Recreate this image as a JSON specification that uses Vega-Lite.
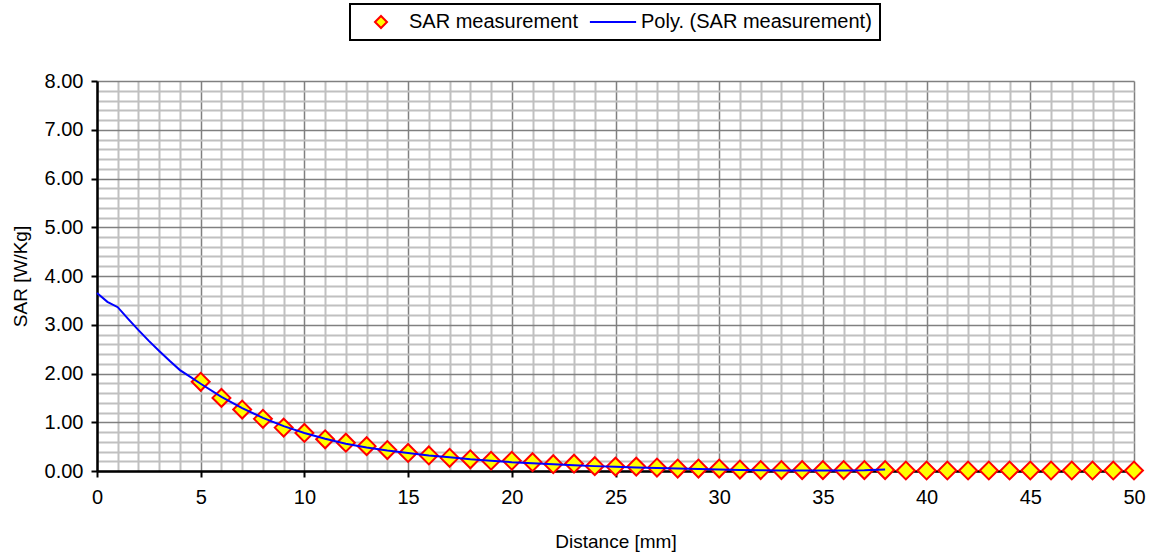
{
  "$schema": "https://vega.github.io/schema/vega-lite/v6.json",
  "width": 1037,
  "height": 390,
  "autosize": {"type": "none"},
  "padding": {"left": 97, "top": 81, "right": 15, "bottom": 86},
  "background": "white",
  "config": {
    "font": "Liberation Sans",
    "view": {"stroke": null},
    "axis": {"labelFont": "Liberation Sans", "titleFont": "Liberation Sans", "labelColor": "black", "titleColor": "black", "titleFontWeight": "normal"}
  },
  "datasets": {
    "meas": [
      {"d": 5, "sar": 1.83, "series": "SAR measurement"},
      {"d": 6, "sar": 1.50, "series": "SAR measurement"},
      {"d": 7, "sar": 1.26, "series": "SAR measurement"},
      {"d": 8, "sar": 1.07, "series": "SAR measurement"},
      {"d": 9, "sar": 0.89, "series": "SAR measurement"},
      {"d": 10, "sar": 0.78, "series": "SAR measurement"},
      {"d": 11, "sar": 0.65, "series": "SAR measurement"},
      {"d": 12, "sar": 0.58, "series": "SAR measurement"},
      {"d": 13, "sar": 0.51, "series": "SAR measurement"},
      {"d": 14, "sar": 0.43, "series": "SAR measurement"},
      {"d": 15, "sar": 0.37, "series": "SAR measurement"},
      {"d": 16, "sar": 0.32, "series": "SAR measurement"},
      {"d": 17, "sar": 0.27, "series": "SAR measurement"},
      {"d": 18, "sar": 0.24, "series": "SAR measurement"},
      {"d": 19, "sar": 0.21, "series": "SAR measurement"},
      {"d": 20, "sar": 0.21, "series": "SAR measurement"},
      {"d": 21, "sar": 0.18, "series": "SAR measurement"},
      {"d": 22, "sar": 0.14, "series": "SAR measurement"},
      {"d": 23, "sar": 0.15, "series": "SAR measurement"},
      {"d": 24, "sar": 0.10, "series": "SAR measurement"},
      {"d": 25, "sar": 0.09, "series": "SAR measurement"},
      {"d": 26, "sar": 0.09, "series": "SAR measurement"},
      {"d": 27, "sar": 0.07, "series": "SAR measurement"},
      {"d": 28, "sar": 0.05, "series": "SAR measurement"},
      {"d": 29, "sar": 0.05, "series": "SAR measurement"},
      {"d": 30, "sar": 0.05, "series": "SAR measurement"},
      {"d": 31, "sar": 0.03, "series": "SAR measurement"},
      {"d": 32, "sar": 0.02, "series": "SAR measurement"},
      {"d": 33, "sar": 0.02, "series": "SAR measurement"},
      {"d": 34, "sar": 0.02, "series": "SAR measurement"},
      {"d": 35, "sar": 0.02, "series": "SAR measurement"},
      {"d": 36, "sar": 0.02, "series": "SAR measurement"},
      {"d": 37, "sar": 0.02, "series": "SAR measurement"},
      {"d": 38, "sar": 0.02, "series": "SAR measurement"},
      {"d": 39, "sar": 0.01, "series": "SAR measurement"},
      {"d": 40, "sar": 0.01, "series": "SAR measurement"},
      {"d": 41, "sar": 0.01, "series": "SAR measurement"},
      {"d": 42, "sar": 0.01, "series": "SAR measurement"},
      {"d": 43, "sar": 0.01, "series": "SAR measurement"},
      {"d": 44, "sar": 0.01, "series": "SAR measurement"},
      {"d": 45, "sar": 0.01, "series": "SAR measurement"},
      {"d": 46, "sar": 0.01, "series": "SAR measurement"},
      {"d": 47, "sar": 0.01, "series": "SAR measurement"},
      {"d": 48, "sar": 0.01, "series": "SAR measurement"},
      {"d": 49, "sar": 0.01, "series": "SAR measurement"},
      {"d": 50, "sar": 0.01, "series": "SAR measurement"}
    ],
    "poly": [
      {"d": 0, "sar": 3.65, "series": "Poly. (SAR measurement)"},
      {"d": 0.5, "sar": 3.47, "series": "Poly. (SAR measurement)"},
      {"d": 1, "sar": 3.36, "series": "Poly. (SAR measurement)"},
      {"d": 1.5, "sar": 3.12, "series": "Poly. (SAR measurement)"},
      {"d": 2, "sar": 2.89, "series": "Poly. (SAR measurement)"},
      {"d": 2.5, "sar": 2.67, "series": "Poly. (SAR measurement)"},
      {"d": 3, "sar": 2.46, "series": "Poly. (SAR measurement)"},
      {"d": 3.5, "sar": 2.26, "series": "Poly. (SAR measurement)"},
      {"d": 4, "sar": 2.07, "series": "Poly. (SAR measurement)"},
      {"d": 4.5, "sar": 1.93, "series": "Poly. (SAR measurement)"},
      {"d": 5, "sar": 1.79, "series": "Poly. (SAR measurement)"},
      {"d": 6, "sar": 1.52, "series": "Poly. (SAR measurement)"},
      {"d": 7, "sar": 1.29, "series": "Poly. (SAR measurement)"},
      {"d": 8, "sar": 1.09, "series": "Poly. (SAR measurement)"},
      {"d": 9, "sar": 0.92, "series": "Poly. (SAR measurement)"},
      {"d": 10, "sar": 0.78, "series": "Poly. (SAR measurement)"},
      {"d": 11, "sar": 0.66, "series": "Poly. (SAR measurement)"},
      {"d": 12, "sar": 0.56, "series": "Poly. (SAR measurement)"},
      {"d": 13, "sar": 0.48, "series": "Poly. (SAR measurement)"},
      {"d": 14, "sar": 0.42, "series": "Poly. (SAR measurement)"},
      {"d": 15, "sar": 0.37, "series": "Poly. (SAR measurement)"},
      {"d": 16, "sar": 0.32, "series": "Poly. (SAR measurement)"},
      {"d": 17, "sar": 0.28, "series": "Poly. (SAR measurement)"},
      {"d": 18, "sar": 0.24, "series": "Poly. (SAR measurement)"},
      {"d": 19, "sar": 0.21, "series": "Poly. (SAR measurement)"},
      {"d": 20, "sar": 0.18, "series": "Poly. (SAR measurement)"},
      {"d": 21, "sar": 0.16, "series": "Poly. (SAR measurement)"},
      {"d": 22, "sar": 0.14, "series": "Poly. (SAR measurement)"},
      {"d": 23, "sar": 0.12, "series": "Poly. (SAR measurement)"},
      {"d": 24, "sar": 0.10, "series": "Poly. (SAR measurement)"},
      {"d": 25, "sar": 0.085, "series": "Poly. (SAR measurement)"},
      {"d": 26, "sar": 0.07, "series": "Poly. (SAR measurement)"},
      {"d": 27, "sar": 0.06, "series": "Poly. (SAR measurement)"},
      {"d": 28, "sar": 0.05, "series": "Poly. (SAR measurement)"},
      {"d": 29, "sar": 0.04, "series": "Poly. (SAR measurement)"},
      {"d": 30, "sar": 0.03, "series": "Poly. (SAR measurement)"},
      {"d": 31, "sar": 0.02, "series": "Poly. (SAR measurement)"},
      {"d": 32, "sar": 0.015, "series": "Poly. (SAR measurement)"},
      {"d": 33, "sar": 0.01, "series": "Poly. (SAR measurement)"},
      {"d": 34, "sar": 0.01, "series": "Poly. (SAR measurement)"},
      {"d": 35, "sar": 0.01, "series": "Poly. (SAR measurement)"},
      {"d": 36, "sar": 0.01, "series": "Poly. (SAR measurement)"},
      {"d": 37, "sar": 0.015, "series": "Poly. (SAR measurement)"},
      {"d": 38, "sar": 0.03, "series": "Poly. (SAR measurement)"}
    ]
  },
  "encoding": {
    "x": {
      "field": "d", "type": "quantitative",
      "scale": {"domain": [0, 50], "nice": false, "zero": false},
      "axis": {
        "title": "Distance [mm]",
        "values": [0,1,2,3,4,5,6,7,8,9,10,11,12,13,14,15,16,17,18,19,20,21,22,23,24,25,26,27,28,29,30,31,32,33,34,35,36,37,38,39,40,41,42,43,44,45,46,47,48,49,50],
        "labelExpr": "datum.value % 5 === 0 ? datum.label : ''",
        "labelFontSize": 20,
        "labelPadding": 10,
        "labelFlush": false,
        "labelOverlap": false,
        "grid": true,
        "gridColor": {"condition": {"test": "datum.value % 5 === 0", "value": "#808080"}, "value": "#C0C0C0"},
        "gridWidth": {"condition": {"test": "datum.value % 5 === 0", "value": 1.5}, "value": 2},
        "tickColor": "black",
        "tickWidth": 2,
        "tickSize": 6,
        "tickOpacity": {"condition": {"test": "datum.value % 5 === 0", "value": 1}, "value": 0},
        "domainColor": "black",
        "domainWidth": 2.5,
        "titleFontSize": 19,
        "titlePadding": 25
      }
    },
    "y": {
      "field": "sar", "type": "quantitative",
      "scale": {"domain": [0, 8], "nice": false},
      "axis": {
        "title": "SAR [W/Kg]",
        "values": [0,0.2,0.4,0.6,0.8,1,1.2,1.4,1.6,1.8,2,2.2,2.4,2.6,2.8,3,3.2,3.4,3.6,3.8,4,4.2,4.4,4.6,4.8,5,5.2,5.4,5.6,5.8,6,6.2,6.4,6.6,6.8,7,7.2,7.4,7.6,7.8,8],
        "labelExpr": "abs(datum.value - round(datum.value)) < 0.001 ? format(datum.value, '.2f') : ''",
        "labelFontSize": 20,
        "labelPadding": 8,
        "labelOverlap": false,
        "labelFlush": false,
        "grid": true,
        "gridColor": {"condition": {"test": "abs(datum.value - round(datum.value)) < 0.001", "value": "#808080"}, "value": "#C0C0C0"},
        "gridWidth": {"condition": {"test": "abs(datum.value - round(datum.value)) < 0.001", "value": 1.5}, "value": 2},
        "tickColor": "black",
        "tickWidth": 2,
        "tickSize": 6,
        "tickOpacity": {"condition": {"test": "abs(datum.value - round(datum.value)) < 0.001", "value": 1}, "value": 0},
        "domainColor": "black",
        "domainWidth": 2.5,
        "titleFontSize": 19,
        "titlePadding": 14
      }
    },
    "stroke": {
      "field": "series", "type": "nominal",
      "scale": {"domain": ["SAR measurement", "Poly. (SAR measurement)"], "range": ["#FF0000", "#0000FF"]},
      "legend": {
        "title": null,
        "orient": "none",
        "legendX": 253,
        "legendY": -77,
        "direction": "horizontal",
        "columns": 2,
        "padding": 8,
        "labelFont": "Liberation Sans",
        "labelFontSize": 20,
        "labelColor": "black",
        "labelOffset": 31,
        "columnPadding": 7,
        "symbolSize": 196,
        "symbolStrokeWidth": 2,
        "strokeColor": "black",
        "fillColor": "white",
        "labelLimit": 400,
        "encode": {
          "legend": {"update": {"strokeWidth": {"value": 2}}},
          "symbols": {
            "update": {
              "shape": {"signal": "datum.value === 'SAR measurement' ? 'diamond' : 'M-3.3,0L3.3,0'"},
              "size": {"signal": "datum.value === 'SAR measurement' ? 144 : 196"},
              "fill": {"signal": "datum.value === 'SAR measurement' ? '#FFFF00' : 'transparent'"},
              "x": {"value": 23},
              "strokeWidth": {"value": 2},
              "opacity": {"value": 1}
            }
          }
        }
      }
    }
  },
  "layer": [
    {
      "data": {"name": "meas"},
      "mark": {"type": "point", "shape": "diamond", "filled": true, "fill": "#FFFF00", "size": 320, "strokeWidth": 2, "opacity": 1, "clip": false}
    },
    {
      "data": {"name": "poly"},
      "mark": {"type": "line", "strokeWidth": 2, "interpolate": "linear"}
    }
  ]
}
